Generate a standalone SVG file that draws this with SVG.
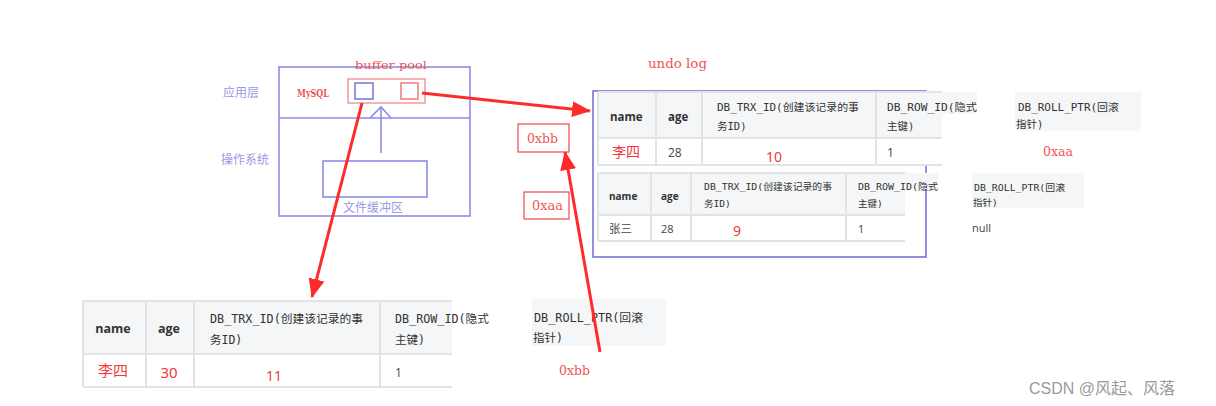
<svg xmlns="http://www.w3.org/2000/svg" width="1216" height="406" viewBox="0 0 1216 406">
<style>
  .os{fill:none;stroke:#8c8ce6;stroke-width:1.6}
  .oslbl{font-family:"Noto Sans CJK SC","Noto Sans",sans-serif;font-size:12px;fill:#9a9ae4}
  .redmono{font-family:"DejaVu Serif","Liberation Serif",serif;fill:#f25555}
  .redtxt{font-family:"Noto Sans","Noto Sans CJK SC",sans-serif;fill:#f03a3a}
  .hdr{fill:#f5f6f7}
  .cell{fill:#ffffff}
  .grid{stroke:#e2e3e5;stroke-width:2;fill:none}
  .th{font-family:"Open Sans","Noto Sans",sans-serif;font-weight:bold;fill:#333}
  .code{font-family:"DejaVu Sans Mono","Noto Sans CJK SC",monospace;fill:#333}
  .td{font-family:"Open Sans","Noto Sans","Noto Sans CJK SC",sans-serif;fill:#444}
  .box{fill:#fff;stroke:#f04848;stroke-width:1.2}
  .conn{stroke:#ff2b2b;stroke-width:3;fill:none}
</style>
<defs>
  <marker id="ah" markerUnits="userSpaceOnUse" markerWidth="20" markerHeight="16" refX="18" refY="8" orient="auto">
    <path d="M0,0 L19,8 L0,16 Z" fill="#ff2b2b"/>
  </marker>
</defs>
<rect width="1216" height="406" fill="#fff"/>

<!-- left OS diagram -->
<g id="os-diagram">
  <rect class="os" x="279" y="67" width="191" height="149"/>
  <line class="os" x1="279" y1="118" x2="470" y2="118"/>
  <text class="oslbl" x="223" y="97">应用层</text>
  <text class="oslbl" x="221" y="164">操作系统</text>
  <text class="redmono" x="297" y="97" font-size="10.5" font-weight="bold" textLength="32" lengthAdjust="spacingAndGlyphs">MySQL</text>
  <text class="redmono" x="355" y="69" font-size="11.5" textLength="72" lengthAdjust="spacingAndGlyphs">buffer pool</text>
  <rect x="348" y="79" width="77" height="24" fill="none" stroke="#f39090" stroke-width="1.4"/>
  <rect x="355" y="83" width="18" height="16" fill="none" stroke="#6a6ad8" stroke-width="1.4"/>
  <rect x="401" y="83" width="17" height="16" fill="none" stroke="#f07070" stroke-width="1.4"/>
  <line class="os" x1="381" y1="153" x2="381" y2="108"/>
  <polyline class="os" points="370,118 381,107 391,118"/>
  <rect class="os" x="323" y="161" width="104" height="36"/>
  <text class="oslbl" x="373" y="212" text-anchor="middle">文件缓冲区</text>
</g>

<!-- undo log frame -->
<g id="undo-log">
  <text class="redmono" x="648" y="68" font-size="12.5" textLength="59" lengthAdjust="spacingAndGlyphs">undo log</text>
  <rect x="593" y="91" width="333" height="166" fill="none" stroke="#7474e0" stroke-width="1.6"/>
</g>

<!-- undo row 1 (李四 28, trx 10) -->
<g id="undo-row-lisi">
  <rect class="hdr" x="598" y="92" width="379" height="22"/>
  <rect class="hdr" x="598" y="92" width="344" height="46"/>
  <rect class="cell" x="598" y="138" width="344" height="27"/>
  <path class="grid" d="M598,92 H942 M598,138 H942 M598,165 H942 M598,92 V165 M656,92 V165 M702,92 V165 M876,92 V165"/>
  <text class="th" x="610" y="121" font-size="11.5">name</text>
  <text class="th" x="668" y="121" font-size="11.5">age</text>
  <text class="code" x="717" y="111" font-size="10.5" textLength="142" lengthAdjust="spacingAndGlyphs">DB_TRX_ID(创建该记录的事</text>
  <text class="code" x="717" y="130" font-size="10.5">务ID)</text>
  <text class="code" x="887" y="111" font-size="10.5" textLength="90" lengthAdjust="spacingAndGlyphs">DB_ROW_ID(隐式</text>
  <text class="code" x="887" y="130" font-size="10.5">主键)</text>
  <text class="redtxt" x="612" y="157" font-size="14">李四</text>
  <text class="td" x="668" y="157" font-size="12">28</text>
  <text class="redtxt" x="774" y="162" font-size="14" text-anchor="middle">10</text>
  <text class="td" x="887" y="157" font-size="12">1</text>
</g>
<g id="undo-ptr-lisi">
  <rect class="hdr" x="1015" y="92" width="126" height="39"/>
  <text class="code" x="1018" y="111" font-size="10.5" textLength="101" lengthAdjust="spacingAndGlyphs">DB_ROLL_PTR(回滚</text>
  <text class="code" x="1016" y="128" font-size="10.5">指针)</text>
  <text class="redmono" x="1043" y="156" font-size="12.5" textLength="30" lengthAdjust="spacingAndGlyphs">0xaa</text>
</g>

<!-- undo row 2 (张三 28, trx 9) -->
<g id="undo-row-zhangsan">
  <rect class="hdr" x="598" y="173" width="307" height="42"/>
  <rect class="hdr" x="846" y="173" width="92" height="16"/>
  <rect class="cell" x="598" y="215" width="307" height="26"/>
  <path class="grid" d="M598,173 H905 M598,215 H905 M598,241 H905 M598,173 V241 M651,173 V241 M691,173 V241 M846,173 V241"/>
  <text class="th" x="609" y="200" font-size="10">name</text>
  <text class="th" x="661" y="200" font-size="10">age</text>
  <text class="code" x="704" y="190" font-size="9.5" textLength="128" lengthAdjust="spacingAndGlyphs">DB_TRX_ID(创建该记录的事</text>
  <text class="code" x="704" y="207" font-size="9.5">务ID)</text>
  <text class="code" x="858" y="190" font-size="9.5" textLength="80" lengthAdjust="spacingAndGlyphs">DB_ROW_ID(隐式</text>
  <text class="code" x="858" y="207" font-size="9.5">主键)</text>
  <text class="td" x="609" y="233" font-size="11.5">张三</text>
  <text class="td" x="661" y="233" font-size="11">28</text>
  <text class="redtxt" x="737" y="236" font-size="14" text-anchor="middle">9</text>
  <text class="td" x="858" y="233" font-size="11">1</text>
</g>
<g id="undo-ptr-zhangsan">
  <rect class="hdr" x="972" y="173" width="112" height="35"/>
  <text class="code" x="974" y="191" font-size="9.5" textLength="91" lengthAdjust="spacingAndGlyphs">DB_ROLL_PTR(回滚</text>
  <text class="code" x="973" y="206" font-size="9.5">指针)</text>
  <text class="td" x="972" y="232" font-size="11">null</text>
</g>

<!-- current row in buffer pool -->
<g id="current-row">
  <rect class="hdr" x="83" y="301" width="369" height="53"/>
  <rect class="cell" x="83" y="354" width="369" height="33"/>
  <path class="grid" d="M83,301 H452 M83,354 H452 M83,387 H452 M83,301 V387 M146,301 V387 M194,301 V387 M380,301 V387"/>
  <text class="th" x="113" y="333" font-size="12.5" text-anchor="middle">name</text>
  <text class="th" x="169" y="333" font-size="12.5" text-anchor="middle">age</text>
  <text class="code" x="210" y="323" font-size="11.5" textLength="153" lengthAdjust="spacingAndGlyphs">DB_TRX_ID(创建该记录的事</text>
  <text class="code" x="210" y="344" font-size="11.5">务ID)</text>
  <text class="code" x="395" y="323" font-size="11.5" textLength="94" lengthAdjust="spacingAndGlyphs">DB_ROW_ID(隐式</text>
  <text class="code" x="395" y="344" font-size="11.5">主键)</text>
  <text class="redtxt" x="113" y="376" font-size="15" text-anchor="middle">李四</text>
  <text class="redtxt" x="169" y="378" font-size="15" text-anchor="middle">30</text>
  <text class="redtxt" x="274" y="381" font-size="14" text-anchor="middle">11</text>
  <text class="td" x="395" y="377" font-size="12">1</text>
</g>
<g id="current-ptr">
  <rect class="hdr" x="532" y="299" width="134" height="47"/>
  <text class="code" x="534" y="322" font-size="11.5" textLength="109" lengthAdjust="spacingAndGlyphs">DB_ROLL_PTR(回滚</text>
  <text class="code" x="533" y="342" font-size="11.5">指针)</text>
  <text class="redmono" x="559" y="375" font-size="13" textLength="31" lengthAdjust="spacingAndGlyphs">0xbb</text>
</g>

<!-- pointer labels -->
<g id="label-0xbb">
  <rect class="box" x="518" y="124" width="51" height="28"/>
  <text class="redmono" x="527" y="143" font-size="13" textLength="31" lengthAdjust="spacingAndGlyphs">0xbb</text>
</g>
<g id="label-0xaa">
  <rect class="box" x="524" y="192" width="45" height="27"/>
  <text class="redmono" x="532" y="210" font-size="13" textLength="31" lengthAdjust="spacingAndGlyphs">0xaa</text>
</g>

<!-- connectors -->
<g id="connectors">
  <line class="conn" x1="422" y1="93" x2="590" y2="111" marker-end="url(#ah)"/>
  <line class="conn" x1="362" y1="103" x2="312" y2="297" stroke-width="3.5" marker-end="url(#ah)"/>
  <line class="conn" x1="600" y1="352" x2="565" y2="152" stroke-width="2.5" marker-end="url(#ah)"/>
</g>

<text x="1029" y="394" font-family="'Liberation Sans','Noto Sans CJK SC',sans-serif" font-size="16" fill="#9a9a9a">CSDN @风起、风落</text>
</svg>
